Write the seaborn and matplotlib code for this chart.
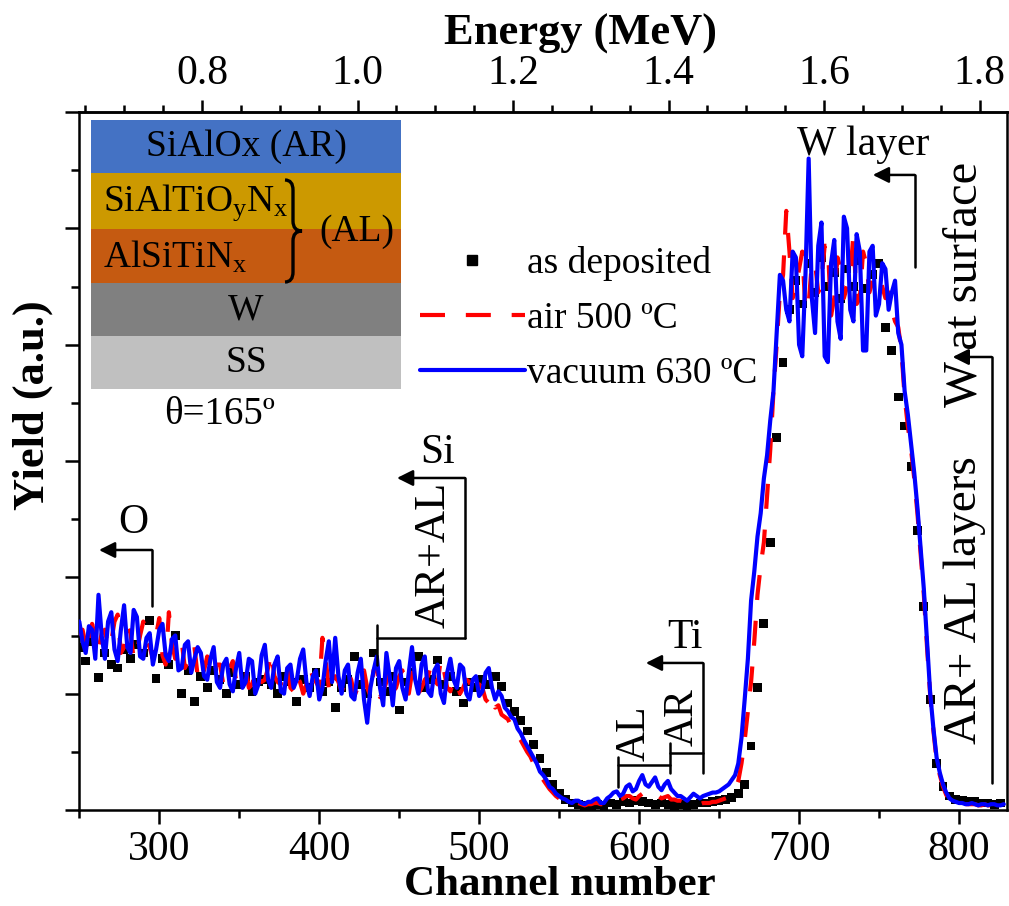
import numpy as np
import seaborn as sns
import matplotlib.pyplot as plt
from matplotlib.ticker import MultipleLocator
from matplotlib.lines import Line2D
from matplotlib.patches import Rectangle, PathPatch
from matplotlib.path import Path

# RBS spectra, yield in arbitrary units.
# Annealed samples are sampled every 2 channels, the as-deposited one every 4.
channels_fine = np.arange(250, 830, 2)
channels_coarse = np.arange(250, 830, 4)

as_deposited = [
    1.40, 1.28, 1.45, 1.14, 1.35, 1.25, 1.22, 1.38, 1.30, 1.42,
    1.35, 1.63, 1.13, 1.30, 1.25, 1.50, 1.00, 1.20, 0.93, 1.15,
    1.05, 1.20, 1.12, 1.00, 1.18, 1.08, 1.15, 1.02, 1.10, 1.12,
    1.08, 1.00, 1.15, 1.10, 0.93, 1.12, 1.05, 1.18, 1.02, 1.10,
    0.88, 1.05, 1.12, 1.32, 1.08, 1.00, 1.35, 1.10, 1.02, 1.15,
    0.86, 1.10, 1.18, 1.32, 1.05, 1.12, 1.29, 1.08, 1.15, 1.02,
    0.92, 1.10, 1.05, 1.12, 1.08, 1.15, 1.06, 0.92, 0.85, 0.77,
    0.68, 0.56, 0.44, 0.32, 0.22, 0.14, 0.09, 0.06, 0.05, 0.04,
    0.04, 0.05, 0.04, 0.06, 0.05, 0.07, 0.06, 0.08, 0.07, 0.06,
    0.05, 0.06, 0.05, 0.04, 0.05, 0.04, 0.05, 0.06, 0.06, 0.07,
    0.08, 0.09, 0.11, 0.14, 0.22, 0.55, 1.05, 1.60, 2.30, 3.20,
    3.85, 4.30, 4.55, 4.35, 4.70, 4.45, 4.75, 4.50, 4.62, 4.40,
    4.65, 4.50, 4.72, 4.48, 4.60, 4.70, 4.15, 3.95, 3.55, 3.30,
    2.95, 2.40, 1.75, 0.95, 0.40, 0.20, 0.12, 0.09, 0.08, 0.07,
    0.07, 0.06, 0.06, 0.05, 0.06,
]

air_500 = [
    1.50, 1.55, 1.42, 1.35, 1.60, 1.48, 1.38, 1.52, 1.55, 1.40,
    1.45, 1.62, 1.68, 1.35, 1.40, 1.58, 1.52, 1.30, 1.36, 1.50,
    1.62, 1.45, 1.40, 1.30, 1.50, 1.65, 1.33, 1.25, 1.70, 1.42,
    1.30, 1.38, 1.45, 1.22, 1.28, 1.40, 1.40, 1.15, 1.25, 1.20,
    1.32, 1.15, 1.18, 1.25, 1.25, 1.08, 1.10, 1.22, 1.28, 1.12,
    1.15, 1.20, 1.22, 1.05, 1.08, 1.18, 1.20, 1.10, 1.12, 1.22,
    1.35, 1.15, 1.10, 1.08, 1.18, 1.25, 1.05, 1.02, 1.15, 1.10,
    1.00, 1.08, 1.22, 1.15, 1.10, 1.05, 1.48, 1.30, 1.05, 1.00,
    1.15, 1.10, 1.02, 1.08, 1.18, 1.12, 0.98, 1.05, 1.12, 1.20,
    1.05, 0.98, 1.20, 1.25, 0.97, 1.02, 1.10, 1.18, 1.02, 1.05,
    1.15, 1.20, 1.05, 1.00, 1.18, 1.10, 1.00, 1.05, 1.12, 1.15,
    1.25, 1.12, 1.08, 1.30, 1.20, 1.05, 1.02, 1.12, 1.10, 1.00,
    1.05, 1.12, 1.10, 1.00, 0.98, 1.08, 1.05, 0.95, 0.92, 0.98,
    0.88, 0.90, 0.82, 0.80, 0.78, 0.72, 0.68, 0.64, 0.60, 0.55,
    0.50, 0.46, 0.40, 0.35, 0.30, 0.26, 0.22, 0.18, 0.15, 0.12,
    0.10, 0.08, 0.07, 0.06, 0.05, 0.05, 0.06, 0.05, 0.04, 0.05,
    0.05, 0.06, 0.06, 0.05, 0.05, 0.07, 0.08, 0.07, 0.07, 0.09,
    0.10, 0.12, 0.12, 0.10, 0.09, 0.12, 0.14, 0.15, 0.11, 0.12,
    0.13, 0.12, 0.10, 0.11, 0.12, 0.09, 0.09, 0.08, 0.08, 0.07,
    0.06, 0.06, 0.06, 0.05, 0.05, 0.06, 0.06, 0.06, 0.07, 0.07,
    0.08, 0.09, 0.10, 0.11, 0.14, 0.18, 0.25, 0.40, 0.60, 0.85,
    1.10, 1.45, 1.85, 2.10, 2.30, 2.70, 3.10, 3.60, 4.00, 4.45,
    4.60, 5.15, 4.80, 4.40, 4.50, 4.65, 4.80, 4.30, 4.35, 4.70,
    4.70, 4.45, 4.55, 4.85, 4.85, 4.25, 4.40, 4.75, 4.65, 4.40,
    4.50, 4.60, 4.95, 4.35, 4.40, 4.80, 4.70, 4.45, 4.55, 4.60,
    4.60, 4.50, 4.40, 4.45, 4.30, 4.20, 4.15, 3.95, 3.55, 3.30,
    3.10, 2.85, 2.55, 2.20, 1.85, 1.40, 0.98, 0.68, 0.42, 0.30,
    0.20, 0.13, 0.09, 0.08, 0.07, 0.06, 0.06, 0.05, 0.05, 0.05,
    0.05, 0.04, 0.04, 0.05, 0.04, 0.04, 0.05, 0.04, 0.05, 0.04,
]

vacuum_630 = [
    1.62, 1.45, 1.35, 1.58, 1.55, 1.30, 1.85, 1.50, 1.30, 1.62,
    1.70, 1.38, 1.28, 1.55, 1.76, 1.40, 1.35, 1.72, 1.66, 1.32,
    1.30, 1.48, 1.52, 1.25, 1.38, 1.55, 1.60, 1.33, 1.28, 1.47,
    1.50, 1.20, 1.22, 1.42, 1.45, 1.18, 1.30, 1.40, 1.35, 1.15,
    1.12, 1.30, 1.40, 1.10, 1.05, 1.25, 1.30, 1.08, 1.02, 1.22,
    1.35, 1.05, 1.10, 1.30, 1.28, 1.00, 1.08, 1.33, 1.42, 1.12,
    1.05, 1.25, 1.32, 1.02, 1.00, 1.22, 1.25, 1.05, 1.12, 1.30,
    1.38, 1.10, 0.98, 1.15, 1.20, 0.95, 1.05, 1.28, 1.45, 1.10,
    1.48, 1.15, 1.00, 1.20, 1.25, 0.98, 0.95, 1.18, 1.30, 0.95,
    0.75, 1.05, 1.20, 1.32, 1.05, 0.90, 1.35, 1.15, 0.90, 1.22,
    1.28, 1.05, 0.95, 1.18, 1.40, 1.12, 1.00, 1.25, 1.32, 1.02,
    0.98, 1.20, 1.25, 1.00, 0.92, 1.18, 1.30, 1.12, 1.05, 1.25,
    1.22, 1.00, 0.95, 1.12, 1.15, 0.98, 1.02, 1.18, 1.22, 1.05,
    0.95, 1.02, 0.98, 0.88, 0.85, 0.80, 0.78, 0.70, 0.66, 0.60,
    0.55, 0.50, 0.45, 0.40, 0.33, 0.30, 0.26, 0.20, 0.18, 0.14,
    0.12, 0.10, 0.09, 0.07, 0.06, 0.08, 0.08, 0.06, 0.05, 0.07,
    0.07, 0.09, 0.10, 0.06, 0.06, 0.10, 0.12, 0.15, 0.16, 0.12,
    0.14, 0.20, 0.22, 0.16, 0.18, 0.25, 0.30, 0.22, 0.20, 0.24,
    0.28, 0.20, 0.17, 0.22, 0.25, 0.18, 0.15, 0.12, 0.12, 0.10,
    0.08, 0.11, 0.14, 0.12, 0.10, 0.12, 0.13, 0.14, 0.15, 0.15,
    0.16, 0.18, 0.20, 0.22, 0.26, 0.30, 0.40, 0.62, 0.95, 1.30,
    1.80, 2.05, 2.35, 2.55, 2.85, 3.05, 3.35, 3.60, 4.10, 4.60,
    4.55, 4.30, 4.20, 4.80, 4.75, 4.00, 3.90, 4.60, 5.60, 4.40,
    4.10, 4.85, 5.05, 3.90, 3.85, 4.70, 4.90, 4.20, 4.05, 5.10,
    5.00, 4.30, 4.20, 4.95, 4.80, 3.95, 3.95, 4.80, 4.85, 4.25,
    4.35, 4.70, 4.65, 4.30, 4.45, 4.55, 4.10, 4.00, 3.60, 3.40,
    3.15, 2.90, 2.60, 2.25, 1.90, 1.45, 1.00, 0.70, 0.45, 0.32,
    0.22, 0.15, 0.10, 0.08, 0.07, 0.06, 0.06, 0.05, 0.05, 0.06,
    0.05, 0.04, 0.05, 0.05, 0.04, 0.05, 0.05, 0.04, 0.04, 0.05,
]

series_labels = ["as deposited", "air 500 ºC", "vacuum 630 ºC"]
channel_ticks = [300, 400, 500, 600, 700, 800]
energy_ticks = [0.8, 1.0, 1.2, 1.4, 1.6, 1.8]

# linear energy calibration of the detector (MeV per channel)
E_SLOPE = 0.0020566
E_OFFSET = 0.12813


def ch2e(c):
    return E_OFFSET + E_SLOPE * np.asarray(c, dtype=float)


def e2ch(e):
    return (np.asarray(e, dtype=float) - E_OFFSET) / E_SLOPE


sns.set_theme(style="ticks")
plt.rcParams["font.family"] = ["Liberation Serif", "DejaVu Serif"]
plt.rcParams["mathtext.default"] = "regular"
plt.rcParams["axes.linewidth"] = 1.8
plt.rcParams["text.color"] = "black"
plt.rcParams["axes.labelcolor"] = "black"
plt.rcParams["axes.edgecolor"] = "black"
for ax_name in ("xtick", "ytick"):
    plt.rcParams[f"{ax_name}.major.width"] = 1.8
    plt.rcParams[f"{ax_name}.minor.width"] = 1.8
    plt.rcParams[f"{ax_name}.color"] = "black"
    plt.rcParams[f"{ax_name}.labelcolor"] = "black"

W, H = 1009, 906
BLUE, RED = "#0000ff", "#ff0000"
DASH = (0, (6, 5))
fig = plt.figure(figsize=(W / 100, H / 100), dpi=100)
ax = fig.add_axes([79.3 / W, (H - 810) / H, (1007 - 79.3) / W, (810 - 112) / H])

sns.scatterplot(x=channels_coarse, y=as_deposited, ax=ax, marker="s", s=40,
                color="black", edgecolor="none", zorder=2)
sns.lineplot(x=channels_fine, y=air_500, ax=ax, color=RED, lw=3.0,
             linestyle=DASH, estimator=None, zorder=3)
sns.lineplot(x=channels_fine, y=vacuum_630, ax=ax, color=BLUE, lw=3.0,
             estimator=None, zorder=4)

ax.set_xlim(250, 830)
ax.set_ylim(0, 6)
ax.xaxis.set_major_locator(plt.FixedLocator(channel_ticks))
ax.xaxis.set_minor_locator(MultipleLocator(50))
ax.yaxis.set_major_locator(MultipleLocator(1))
ax.yaxis.set_minor_locator(MultipleLocator(0.5))
ax.tick_params(axis="x", which="major", direction="out", length=10, pad=5,
               labelsize=30, top=False)
ax.tick_params(axis="x", which="minor", direction="out", length=6, top=False)
ax.tick_params(axis="y", which="major", direction="out", length=10,
               labelleft=False, right=False)
ax.tick_params(axis="y", which="minor", direction="out", length=6, right=False)
for sp in ax.spines.values():
    sp.set_visible(True)
    sp.set_color("black")
    sp.set_linewidth(1.8)

ax.set_xlabel("Channel number", fontsize=31, fontweight="bold")
ax.xaxis.set_label_coords(0.518, -0.080)
ax.set_ylabel("Yield (a.u.)", fontsize=32, fontweight="bold")
ax.yaxis.set_label_coords(-0.028, 0.58)

sec = ax.secondary_xaxis("top", functions=(ch2e, e2ch))
sec.xaxis.set_major_locator(plt.FixedLocator(energy_ticks))
sec.xaxis.set_minor_locator(MultipleLocator(0.05))
sec.xaxis.set_major_formatter(plt.FuncFormatter(lambda v, p: f"{v:.1f}"))
sec.tick_params(axis="x", which="major", direction="out", length=9, pad=5,
                labelsize=30, width=1.8, colors="black")
sec.tick_params(axis="x", which="minor", direction="out", length=5, width=1.8)
sec.spines["top"].set_linewidth(1.8)
fig.text(580 / W, 1 - 45 / H, "Energy (MeV)", fontsize=32, fontweight="bold",
         ha="center", va="baseline")

# legend
handles = [
    Line2D([], [], marker="s", ls="none", color="black", markersize=7),
    Line2D([], [], color=RED, lw=3.0, linestyle=DASH),
    Line2D([], [], color=BLUE, lw=3.0),
]
ax.legend(handles, series_labels, loc="upper left",
          bbox_to_anchor=((420 - 79.3) / 928, (810 - 246) / 698),
          frameon=False, fontsize=27, handlelength=2.8, handletextpad=0.05,
          labelspacing=0.55, borderpad=0, borderaxespad=0, numpoints=1)

# element edge markers: (tip, corner, foot) of each bent arrow
ARW = dict(color="black", lw=1.8)


def edge_arrow(tip, corner, foot):
    ax.plot([corner[0], corner[0]], [foot, corner[1]], **ARW, zorder=5)
    ax.annotate("", xy=tip, xytext=corner, zorder=5,
                arrowprops=dict(arrowstyle="-|>", color="black", lw=1.8,
                                mutation_scale=24, shrinkA=0, shrinkB=0))


edge_arrow((262.3, 2.235), (295.4, 2.235), 1.754)
ax.text(283.6, 2.47, "O", fontsize=30, ha="center", va="center")

edge_arrow((448.6, 2.854), (491.1, 2.854), 1.479)
ax.plot([436.0, 491.1], [1.479, 1.479], **ARW, zorder=5)
ax.plot([436.0, 436.0], [1.59, 1.25], **ARW, zorder=5)
ax.text(474.2, 3.07, "Si", fontsize=30, ha="center", va="center")
ax.text(471.7, 2.19, "AR+AL", fontsize=32, ha="center", va="center", rotation=90)

edge_arrow((604.2, 1.264), (639.8, 1.264), 0.318)
ax.plot([619.3, 639.8], [0.49, 0.49], **ARW, zorder=5)
ax.plot([619.3, 619.3], [0.576, 0.318], **ARW, zorder=5)
ax.plot([586.7, 619.3], [0.387, 0.387], **ARW, zorder=5)
ax.plot([586.7, 586.7], [0.456, 0.198], **ARW, zorder=5)
ax.text(628.6, 1.48, "Ti", fontsize=30, ha="center", va="center")
ax.text(627.3, 0.80, "AR", fontsize=30, ha="center", va="center", rotation=90)
ax.text(597.3, 0.66, "AL", fontsize=30, ha="center", va="center", rotation=90)

edge_arrow((746.1, 5.459), (772.3, 5.459), 4.668)
ax.text(739.8, 5.72, "W layer", fontsize=30, ha="center", va="center")

edge_arrow((796.0, 3.894), (820.4, 3.894), 0.232)
ax.text(803.6, 4.52, "W at surface", fontsize=35, ha="center", va="center",
        rotation=90)
ax.text(803.6, 1.805, "AR+ AL layers", fontsize=34, ha="center", va="center",
        rotation=90)

# sample stack sketch
ins = fig.add_axes([91 / W, (H - 389) / H, 310 / W, 269 / H])
ins.set_xlim(0, 310)
ins.set_ylim(0, 269)
ins.axis("off")
layer_edges = [269, 216, 160, 106, 53, 0]
layer_colors = ["#4472c4", "#cc9900", "#c55a11", "#808080", "#c0c0c0"]
for top, bot, col in zip(layer_edges[:-1], layer_edges[1:], layer_colors):
    ins.add_patch(Rectangle((0, bot), 310, top - bot, facecolor=col,
                            edgecolor="none"))
ins.text(155, 242, "SiAlOx (AR)", fontsize=27, ha="center", va="center")
ins.text(12, 186, "SiAlTiO$_y$N$_x$", fontsize=27, ha="left", va="center")
ins.text(12, 132, "AlSiTiN$_x$", fontsize=27, ha="left", va="center")
ins.text(155, 79, "W", fontsize=27, ha="center", va="center")
ins.text(155, 26, "SS", fontsize=27, ha="center", va="center")
ins.text(266, 157, "(AL)", fontsize=27, ha="center", va="center")
brace = Path(
    [(194, 209), (202, 209), (202, 199), (202, 168), (202, 158), (211, 158),
     (202, 158), (202, 148), (202, 117), (202, 107), (194, 107)],
    [Path.MOVETO, Path.CURVE3, Path.CURVE3, Path.LINETO, Path.CURVE3,
     Path.CURVE3, Path.CURVE3, Path.CURVE3, Path.LINETO, Path.CURVE3,
     Path.CURVE3],
)
ins.add_patch(PathPatch(brace, facecolor="none", edgecolor="black", lw=2.4))

fig.text(220 / W, 1 - 415 / H, "θ=165º", fontsize=28, ha="center", va="center")

fig.savefig("out.png", dpi=100)
